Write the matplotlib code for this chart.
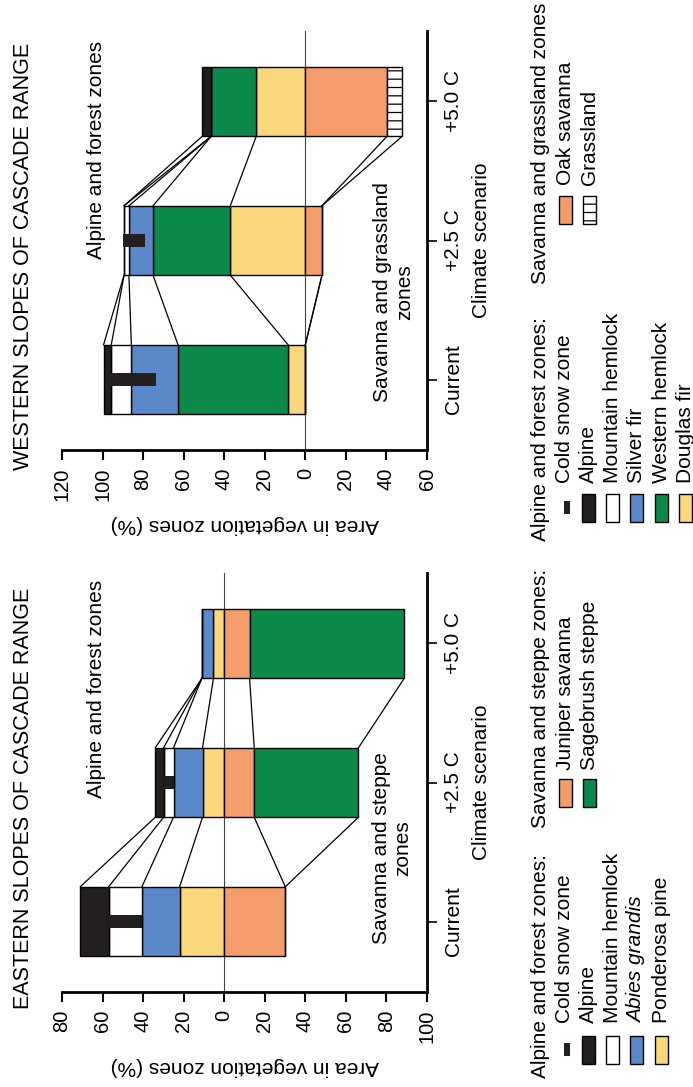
import numpy as np
import matplotlib
matplotlib.use("Agg")
import matplotlib.pyplot as plt
from matplotlib.patches import Rectangle

plt.rcParams['font.family'] = ['Liberation Sans', 'DejaVu Sans']
plt.rcParams['hatch.linewidth'] = 0.9

W, H = 693, 1087

scenarios = ["Current", "+2.5 C", "+5.0 C"]

# western slopes, % of area; forest zones stack out from 0, savanna the other way
west_douglas_fir = [8.5, 37.0, 24.2]
west_western_hemlock = [54.3, 38.1, 22.2]
west_silver_fir = [23.0, 11.9, 0.0]
west_mountain_hemlock = [9.9, 2.4, 0.0]
west_alpine = [3.8, 0.0, 4.4]
west_snow_from = [73.5, 79.0, np.nan]
west_snow_to = [98.0, 89.9, np.nan]
west_oak_savanna = [0.0, 8.2, 40.3]
west_grassland = [0.0, 0.0, 7.5]

# eastern slopes
east_ponderosa_pine = [22.0, 10.7, 5.3]
east_abies_grandis = [18.6, 14.3, 5.7]
east_mountain_hemlock = [16.4, 4.9, 0.0]
east_alpine = [14.0, 4.1, 0.0]
east_snow_from = [40.6, 25.0, np.nan]
east_snow_to = [57.0, 29.9, np.nan]
east_juniper_savanna = [30.1, 14.8, 12.5]
east_sagebrush_steppe = [0.0, 51.4, 76.3]

west_ticks = [120, 100, 80, 60, 40, 20, 0, -20, -40, -60]
east_ticks = [80, 60, 40, 20, 0, -20, -40, -60, -80, -100]

BLACK = '#231f20'
WHITE = '#ffffff'
BLUE = '#5b88c8'
GREEN = '#0b8a4c'
YELLOW = '#fbd77c'
ORANGE = '#f49d6b'

FS = 15


def draw_panel(ax, forest, savanna, snow_from, snow_to, ticks):
    y = np.arange(len(scenarios))
    half = 0.25
    ax.axvline(0, color='#444444', lw=0.8, zorder=1)
    for layers, sign in ((forest, 1), (savanna, -1)):
        base = np.zeros(len(y))
        edges = []
        for vals, col, hatch in layers:
            vals = np.asarray(vals, dtype=float)
            ax.barh(y, sign * vals, left=sign * base, height=2 * half, color=col,
                    edgecolor='black', lw=1, hatch=hatch, zorder=3)
            base = base + vals
            edges.append(sign * base)
        # lines joining each zone boundary from one scenario to the next
        for e in edges:
            for i in range(len(y) - 1):
                ax.plot([e[i], e[i + 1]], [y[i] + half, y[i + 1] - half],
                        color='black', lw=0.9, zorder=2)
    lo = np.asarray(snow_from)
    hi = np.asarray(snow_to)
    ok = ~np.isnan(lo)
    ax.barh(y[ok], hi[ok] - lo[ok], left=lo[ok], height=0.1, color=BLACK, lw=0, zorder=4)

    ax.set_xlim(ticks[0], ticks[-1])
    ax.set_ylim(-0.507, 2.507)
    for s in ('top', 'left'):
        ax.spines[s].set_visible(False)
    ax.spines['bottom'].set_linewidth(2)
    ax.spines['right'].set_linewidth(2)
    ax.set_xticks(ticks)
    ax.set_xticklabels([str(abs(t)) for t in ticks], rotation=90)
    ax.yaxis.tick_right()
    ax.set_yticks(y)
    ax.set_yticklabels(scenarios, rotation=90, va='center')
    ax.tick_params(axis='x', length=7, width=1.5, pad=6, labelsize=14.5)
    ax.tick_params(axis='y', length=7, width=1.2, pad=5, labelsize=FS)
    ax.set_xlabel('Area in vegetation zones (%)', rotation=180, fontsize=FS, labelpad=10)
    ax.yaxis.set_label_position('right')
    ax.set_ylabel('Climate scenario', rotation=90, fontsize=FS, labelpad=7)


def px_rect(fig, x0, x1, y0, y1, **kw):
    fig.add_artist(Rectangle((x0 / W, 1 - y1 / H), (x1 - x0) / W, (y1 - y0) / H,
                             transform=fig.transFigure, **kw))


def px_text(fig, x, y, s, **kw):
    fig.text(x / W, 1 - y / H, s, rotation=90, **kw)


def legend_block(fig, header, header_y, text_y, box_y, entries, row0=564.0, step=24.3):
    px_text(fig, 540, header_y, header, ha='center', va='bottom', fontsize=FS)
    for k, (label, col, hatch, kind, style) in enumerate(entries):
        rx = row0 + k * step
        px_text(fig, rx, text_y, label, ha='center', va='bottom', fontsize=FS, style=style)
        if kind == 'mark':
            px_rect(fig, rx, rx + 6, box_y + 7, box_y + 20, facecolor=col, edgecolor=col, lw=0)
        else:
            px_rect(fig, rx - 6.5, rx + 6.5, box_y, box_y + 28, facecolor=col,
                    edgecolor='black', lw=1, hatch=hatch)


fig = plt.figure(figsize=(W / 100, H / 100), dpi=100)
ax_w = fig.add_axes([62 / W, 1 - 450 / H, 365 / W, 419 / H])
ax_e = fig.add_axes([62 / W, 1 - 992 / H, 365 / W, 419 / H])

draw_panel(ax_w,
           [(west_douglas_fir, YELLOW, None), (west_western_hemlock, GREEN, None),
            (west_silver_fir, BLUE, None), (west_mountain_hemlock, WHITE, None),
            (west_alpine, BLACK, None)],
           [(west_oak_savanna, ORANGE, None), (west_grassland, WHITE, '--')],
           west_snow_from, west_snow_to, west_ticks)
ax_w.text(103, 1.65, 'Alpine and forest zones', rotation=90, ha='center', va='center', fontsize=FS)
ax_w.text(-43.4, 0.63, 'Savanna and grassland\nzones', rotation=90, ha='center', va='center',
          multialignment='center', fontsize=FS)

draw_panel(ax_e,
           [(east_ponderosa_pine, YELLOW, None), (east_abies_grandis, BLUE, None),
            (east_mountain_hemlock, WHITE, None), (east_alpine, BLACK, None)],
           [(east_juniper_savanna, ORANGE, None), (east_sagebrush_steppe, GREEN, None)],
           east_snow_from, east_snow_to, east_ticks)
ax_e.text(63, 1.67, 'Alpine and forest zones', rotation=90, ha='center', va='center', fontsize=FS)
ax_e.text(-82.8, 0.53, 'Savanna and steppe\nzones', rotation=90, ha='center', va='center',
          multialignment='center', fontsize=FS)

px_text(fig, 24, 256, 'WESTERN SLOPES OF CASCADE RANGE', ha='center', va='center', fontsize=15.5)
px_text(fig, 24, 798, 'EASTERN SLOPES OF CASCADE RANGE', ha='center', va='center', fontsize=15.5)

legend_block(fig, 'Alpine and forest zones:', 541, 483, 494,
             [('Cold snow zone', BLACK, None, 'mark', 'normal'),
              ('Alpine', BLACK, None, 'box', 'normal'),
              ('Mountain hemlock', WHITE, None, 'box', 'normal'),
              ('Silver fir', BLUE, None, 'box', 'normal'),
              ('Western hemlock', GREEN, None, 'box', 'normal'),
              ('Douglas fir', YELLOW, None, 'box', 'normal')])
legend_block(fig, 'Savanna and grassland zones', 284, 185, 196,
             [('Oak savanna', ORANGE, None, 'box', 'normal'),
              ('Grassland', WHITE, '--', 'box', 'normal')], row0=565.5)
legend_block(fig, 'Alpine and forest zones:', 1078, 1023, 1036,
             [('Cold snow zone', BLACK, None, 'mark', 'normal'),
              ('Alpine', BLACK, None, 'box', 'normal'),
              ('Mountain hemlock', WHITE, None, 'box', 'normal'),
              ('Abies grandis', BLUE, None, 'box', 'italic'),
              ('Ponderosa pine', YELLOW, None, 'box', 'normal')])
legend_block(fig, 'Savanna and steppe zones:', 828, 770, 779,
             [('Juniper savanna', ORANGE, None, 'box', 'normal'),
              ('Sagebrush steppe', GREEN, None, 'box', 'normal')], row0=565.5)

fig.savefig('out.png', dpi=100)
